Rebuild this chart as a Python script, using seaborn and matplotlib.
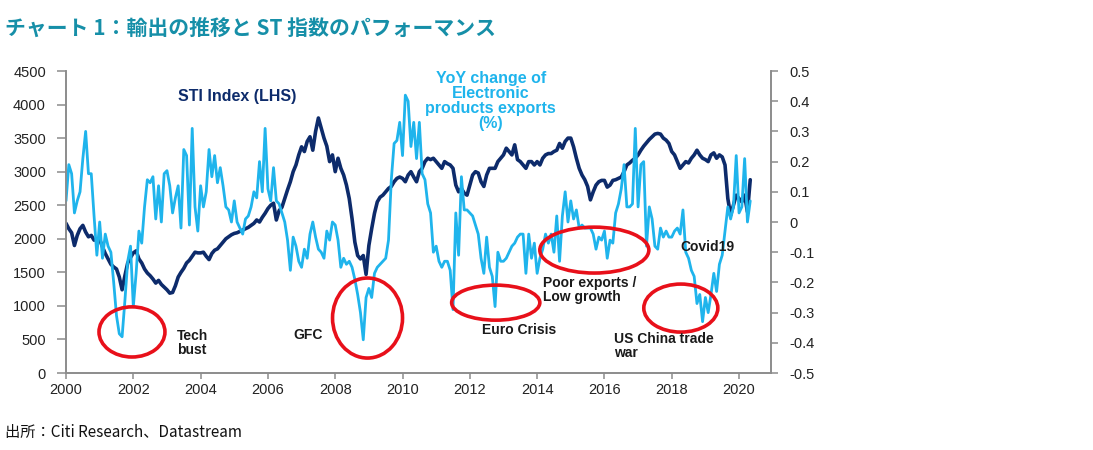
# Singapore electronics exports vs STI chart

import numpy as np
import pandas as pd
import seaborn as sns
from matplotlib import pyplot as plt
from matplotlib.patches import Ellipse

# Monthly values, Jan 2000 - May 2020 (one row per year)

sti = [
    2230, 2150, 2090, 1900, 2050, 2150, 2200, 2100, 2030, 2050, 1980, 2000,
    1990, 1880, 1780, 1700, 1620, 1580, 1550, 1430, 1240, 1450, 1640, 1720,
    1790, 1820, 1700, 1640, 1550, 1490, 1450, 1400, 1340, 1380, 1320, 1280,
    1240, 1190, 1200, 1300, 1430, 1500, 1560, 1640, 1680, 1740, 1800, 1790,
    1790, 1800, 1740, 1690, 1780, 1830, 1850, 1900, 1950, 2000, 2030, 2060,
    2080, 2090, 2110, 2130, 2150, 2170, 2200, 2230, 2280, 2250, 2320, 2380,
    2450, 2500, 2530, 2280, 2420, 2470, 2600, 2730, 2850, 3000, 3100, 3250,
    3370, 3300, 3450, 3520, 3320, 3600, 3800, 3650, 3500, 3380, 3150, 3250,
    3000, 3200, 3050, 2950, 2800, 2600, 2300, 1950, 1750, 1700, 1750, 1470,
    1900, 2150, 2380, 2550, 2620, 2650, 2700, 2750, 2780, 2850, 2900, 2920,
    2900, 2850, 2950, 3000, 2920, 2850, 3000, 3050, 3150, 3200, 3180, 3200,
    3150, 3100, 3050, 3150, 3120, 3100, 3050, 2800, 2700, 2750, 2680, 2650,
    2800, 2950, 3000, 2980, 2850, 2780, 2950, 3050, 3050, 3050, 3150, 3200,
    3250, 3350, 3300, 3250, 3400, 3180, 3150, 3100, 3050, 3150, 3150, 3100,
    3150, 3100, 3200, 3250, 3270, 3270, 3300, 3320, 3420, 3350, 3450, 3500,
    3500, 3370, 3200, 3050, 2950, 2880, 2780, 2580, 2700, 2800, 2850, 2870,
    2870, 2770, 2800, 2870, 2880, 2900, 2920, 3000, 3100, 3130, 3170, 3200,
    3250, 3320, 3380, 3430, 3480, 3520, 3560, 3570, 3560, 3500, 3470, 3420,
    3300, 3250, 3150, 3050, 3100, 3150, 3130, 3200, 3250, 3320, 3250, 3200,
    3180, 3150, 3250, 3280, 3200, 3250, 3220, 3100, 2600, 2350, 2500, 2650,
    2600, 2550, 2650, 2400, 2880,
]

exports_yoy = [
    0.07, 0.19, 0.16, 0.03, 0.07, 0.10, 0.21, 0.30, 0.16, 0.16, 0.02, -0.11,
    0.00, -0.12, -0.04, -0.08, -0.10, -0.20, -0.31, -0.37, -0.38, -0.26, -0.13, -0.08,
    -0.28, -0.17, -0.03, -0.07, 0.05, 0.14, 0.13, 0.15, 0.01, 0.12, 0.00, 0.16,
    0.17, 0.12, 0.03, 0.08, 0.12, -0.02, 0.24, 0.22, -0.01, 0.31, 0.05, -0.03,
    0.12, 0.05, 0.10, 0.24, 0.15, 0.22, 0.13, 0.18, 0.12, 0.05, 0.04, 0.00,
    0.07, 0.00, -0.02, -0.04, 0.01, 0.02, 0.05, 0.10, 0.08, 0.20, 0.10, 0.31,
    0.11, 0.07, 0.18, 0.07, 0.06, 0.03, 0.00, -0.06, -0.16, -0.05, -0.08, -0.13,
    -0.15, -0.09, -0.12, -0.04, 0.00, -0.05, -0.09, -0.10, -0.12, -0.03, -0.06, 0.00,
    -0.01, -0.06, -0.15, -0.12, -0.14, -0.13, -0.15, -0.19, -0.24, -0.30, -0.39, -0.25,
    -0.22, -0.25, -0.17, -0.15, -0.14, -0.13, -0.12, -0.06, 0.14, 0.26, 0.27, 0.33,
    0.22, 0.42, 0.40, 0.25, 0.33, 0.21, 0.33, 0.16, 0.14, 0.06, 0.03, -0.10,
    -0.08, -0.13, -0.15, -0.13, -0.13, -0.16, -0.29, 0.03, -0.11, 0.15, 0.04, 0.04,
    0.03, 0.02, -0.01, -0.04, -0.12, -0.17, -0.05, -0.15, -0.18, -0.28, -0.10, -0.13,
    -0.13, -0.12, -0.10, -0.08, -0.07, -0.05, -0.04, -0.04, -0.17, -0.04, -0.12, -0.07,
    -0.17, -0.12, -0.09, -0.04, -0.07, -0.04, -0.10, 0.02, -0.13, 0.02, 0.10, 0.00,
    0.07, 0.01, 0.04, -0.02, -0.01, -0.02, -0.02, -0.02, -0.04, -0.09, -0.05, -0.06,
    -0.03, -0.12, -0.06, -0.07, 0.03, 0.06, 0.11, 0.19, 0.05, 0.05, 0.06, 0.31,
    0.05, 0.19, 0.20, -0.08, 0.05, 0.01, -0.08, -0.09, -0.02, -0.05, -0.03, -0.05,
    -0.05, -0.03, -0.02, -0.04, 0.04, -0.10, -0.12, -0.16, -0.18, -0.27, -0.24, -0.33,
    -0.25, -0.30, -0.24, -0.17, -0.23, -0.14, -0.11, -0.03, 0.05, 0.01, 0.05, 0.22,
    0.03, 0.05, 0.21, 0.00, 0.07,
]

x_ticks = list(range(2000, 2021, 2))
left_ticks = list(range(0, 4501, 500))
right_ticks = [0.5, 0.4, 0.3, 0.2, 0.1, 0.0, -0.1, -0.2, -0.3, -0.4, -0.5]
right_labels = ['0.5', '0.4', '0.3', '0.2', '0.1', '0', '-0.1', '-0.2', '-0.3', '-0.4', '-0.5']

# highlighted episodes: (centre year, centre yoy, width in years, height in yoy)
circles = [
    (2001.96, -0.364, 1.96, 0.166),
    (2008.96, -0.318, 2.08, 0.265),
    (2012.77, -0.267, 2.62, 0.116),
    (2015.70, -0.093, 3.24, 0.152),
    (2018.27, -0.285, 2.20, 0.159),
]
notes = [
    ('Tech\nbust', 2003.30, -0.40),
    ('GFC', 2006.76, -0.374),
    ('Euro Crisis', 2012.35, -0.358),
    ('Poor exports /\nLow growth', 2014.17, -0.225),
    ('US China trade\nwar', 2016.28, -0.41),
    ('Covid19', 2018.27, -0.083),
]

title = 'チャート 1：輸出の推移と ST 指数のパフォーマンス'
source = '出所：Citi Research、Datastream'

navy = '#0d2b6b'
sky = '#1fb4ec'
grey = '#8c8c8c'

# Building the frame

dates = 2000 + np.arange(len(sti)) / 12
df = pd.DataFrame({'date': dates, 'sti': sti, 'exports': exports_yoy})

sns.set_style('ticks')
plt.rcParams['font.family'] = ['Liberation Sans', 'Noto Sans CJK JP', 'DejaVu Sans']

fig = plt.figure(figsize=(10.93, 4.5), dpi=100)
ax = fig.add_axes([0.0604, 0.1711, 0.645, 0.6711])

sns.lineplot(data=df, x='date', y='sti', ax=ax, color=navy, linewidth=2.6)
ax2 = ax.twinx()
sns.lineplot(data=df, x='date', y='exports', ax=ax2, color=sky, linewidth=2.0)

ax.set_xlim(2000, 2020.95)
ax.set_ylim(0, 4500)
ax2.set_ylim(-0.5, 0.5)

ax.set_xticks(x_ticks)
ax.set_xticklabels([str(t) for t in x_ticks])
ax.set_yticks(left_ticks)
ax.set_yticklabels([str(t) for t in left_ticks])
ax2.set_yticks(right_ticks)
ax2.set_yticklabels(right_labels)

for a in [ax, ax2]:
    a.set_xlabel('')
    a.set_ylabel('')
    a.spines['top'].set_visible(False)
    for s in ['left', 'right', 'bottom']:
        a.spines[s].set_color(grey)
        a.spines[s].set_linewidth(1.2)

ax.tick_params(axis='x', direction='out', length=4, width=1.1, color=grey, pad=3, labelsize=10.5, labelcolor='#222222')
ax.tick_params(axis='y', direction='out', length=6.5, width=1.1, color=grey, pad=8, labelsize=10.5, labelcolor='#222222')
ax2.tick_params(axis='y', direction='out', length=5, width=1.1, color=grey, pad=8, labelsize=10.5, labelcolor='#222222')

for cx, cy, w, h in circles:
    ax2.add_patch(Ellipse((cx, cy), w, h, fill=False, edgecolor='#e8101a', linewidth=2.6, zorder=5))

for txt, tx, ty in notes:
    ax2.text(tx, ty, txt, ha='left', va='center', fontsize=10, fontweight='bold',
             color='#1a1a1a', linespacing=1.0, zorder=6)

ax2.text(2005.09, 0.417, 'STI Index (LHS)', ha='center', va='center', fontsize=11.5,
         fontweight='bold', color=navy)
ax2.text(2012.62, 0.40, 'YoY change of\nElectronic\nproducts exports\n(%)', ha='center', va='center',
         fontsize=11.5, fontweight='bold', color=sky, linespacing=1.0)

fig.text(0.005, 0.938, title, ha='left', va='center', fontsize=15, fontweight='bold',
         color='#168fa8', family=['Noto Sans CJK JP', 'DejaVu Sans'])
fig.text(0.005, 0.04, source, ha='left', va='center', fontsize=11, color='#111111',
         family=['Noto Sans CJK JP', 'DejaVu Sans'])

plt.savefig('out.png', dpi=100)
